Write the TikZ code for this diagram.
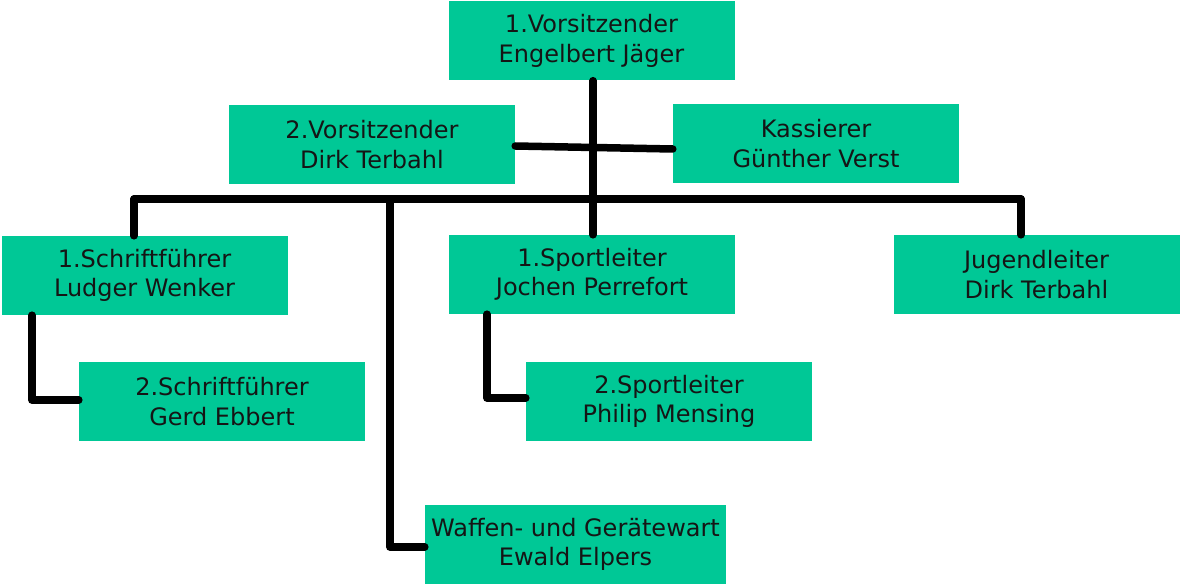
\documentclass[tikz,border=0pt]{standalone}
\usepackage{fontspec}
\setmainfont{DejaVu Sans}
\definecolor{boxgreen}{HTML}{00C896}
\definecolor{txt}{HTML}{151515}
\begin{document}
\begin{tikzpicture}[x=1pt,y=-1pt,
  box/.style={fill=boxgreen,draw=none,minimum width=286pt,minimum height=79pt,inner sep=0pt,align=center,text=txt,font=\fontsize{24}{29.5}\selectfont},
  conn/.style={line width=7.5pt,line cap=round,line join=round}]
\useasboundingbox (0,0) rectangle (1180,585);
\node[box] (v1) at (591.5,41) {1.Vorsitzender\\Engelbert Jäger};
\node[box] (v2) at (372,144.5) {2.Vorsitzender\\Dirk Terbahl};
\node[box] (ka) at (816,143.5) {Kassierer\\Günther Verst};
\node[box] (s1) at (144.5,275.5) {1.Schriftführer\\Ludger Wenker};
\node[box] (sp1) at (592,274.5) {1.Sportleiter\\Jochen Perrefort};
\node[box] (ju) at (1036.5,274.5) {Jugendleiter\\Dirk Terbahl};
\node[box] (s2) at (222,401.5) {2.Schriftführer\\Gerd Ebbert};
\node[box] (sp2) at (669,401.5) {2.Sportleiter\\Philip Mensing};
\node[box,minimum width=301pt] (wa) at (575.5,544.5) {Waffen- und Gerätewart\\Ewald Elpers};
\coordinate (hl) at (134,199);
\coordinate (hr) at (1021,199);
\coordinate (hw) at (390,199);
\draw[conn] (v1.south -| 593,0) -- (sp1.north -| 593,0);
\draw[conn] (v2.east |- 0,146) -- (ka.west |- 0,149);
\draw[conn] (hl) -- (hr);
\draw[conn] (hl) -- (s1.north -| hl);
\draw[conn] (hr) -- (ju.north -| hr);
\draw[conn] (hw) -- (390,547) -- (wa.west |- 0,547);
\draw[conn] (s1.south -| 32,0) -- (32,400) -- (s2.west |- 0,400);
\draw[conn] (sp1.south -| 487,0) -- (487,398) -- (sp2.west |- 0,398);
\end{tikzpicture}
\end{document}
